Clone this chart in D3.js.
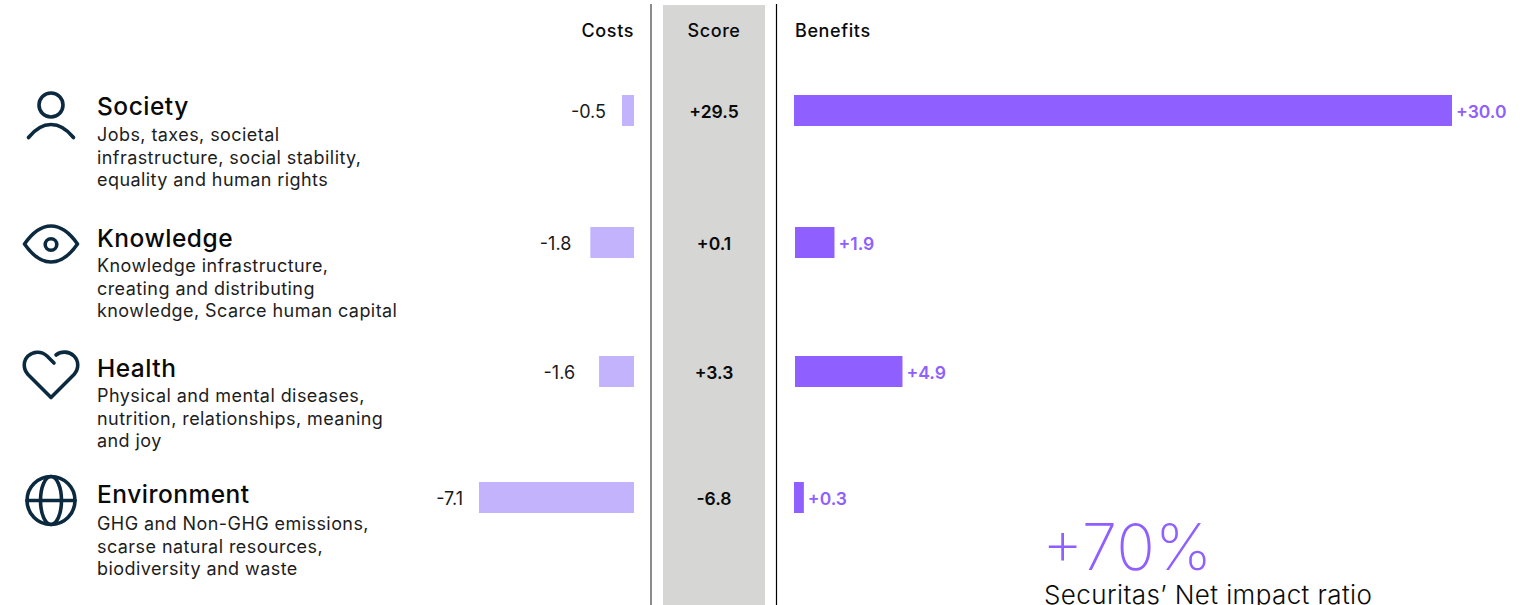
<!DOCTYPE html>
<html>
<head>
<meta charset="utf-8">
<script src="https://cdn.jsdelivr.net/npm/d3@7"></script>
<style>
  html, body { margin: 0; padding: 0; background: #fff; overflow: hidden; }
  text { font-family: "Inter", sans-serif; }
</style>
</head>
<body>
<div id="bodyVis"></div>
<script>
// chart data
var categories = ["Society", "Knowledge", "Health", "Environment"];
var descriptions = [
  ["Jobs, taxes, societal", "infrastructure, social stability,", "equality and human rights"],
  ["Knowledge infrastructure,", "creating and distributing", "knowledge, Scarce human capital"],
  ["Physical and mental diseases,", "nutrition, relationships, meaning", "and joy"],
  ["GHG and Non-GHG emissions,", "scarse natural resources,", "biodiversity and waste"]
];
var costBars = [0.55, 2.0, 1.6, 7.1];      // bar lengths as drawn, not quite the printed values
var benefitBars = [30.0, 1.8, 4.9, 0.45];
var costLabels = ["-0.5", "-1.8", "-1.6", "-7.1"];
var scoreLabels = ["+29.5", "+0.1", "+3.3", "-6.8"];
var benefitLabels = ["+30.0", "+1.9", "+4.9", "+0.3"];
var headers = ["Costs", "Score", "Benefits"];
var ratioValue = "+70%";
var ratioLabel = "Securitas\u2019 Net impact ratio";

var purple = "#8f5fff", lilac = "#c2b3fc", ink = "#0c2a3f";

var svg = d3.select("#bodyVis").append("svg")
  .attr("width", 1530)
  .attr("height", 605)
  .style("display", "block");

// rows are not evenly spaced in the original
var barTop = d3.scaleOrdinal().domain(categories).range([95, 227, 356, 482]);
var titleY = d3.scaleOrdinal().domain(categories).range([115, 247, 377, 503]);
var descY = d3.scaleOrdinal().domain(categories).range([141, 272, 402, 530]);
var labelGap = d3.scaleOrdinal().domain(categories).range([16, 19, 24, 16]);
var benefitStart = d3.scaleOrdinal().domain(categories).range([794, 795, 795, 794]);
var barHeight = 31;

var costScale = d3.scaleLinear().domain([0, 7.1]).range([634, 479]);
var benefitScale = d3.scaleLinear().domain([0, 30]).range([0, 658]);

// score band and the two rules
svg.append("rect").attr("x", 663).attr("y", 5).attr("width", 102).attr("height", 600).attr("fill", "#d6d6d5");
svg.append("line").attr("x1", 651).attr("x2", 651).attr("y1", 4).attr("y2", 605)
  .attr("stroke", "#6e6e6e").attr("stroke-width", 1.6);
svg.append("line").attr("x1", 776.5).attr("x2", 776.5).attr("y1", 4).attr("y2", 605)
  .attr("stroke", "#000").attr("stroke-width", 1.2);

// headers
function headerText(s, x, anchor) {
  svg.append("text").attr("x", x).attr("y", 36.5).attr("text-anchor", anchor)
    .attr("font-size", 18).attr("font-weight", 500).attr("letter-spacing", 0.6)
    .attr("fill", "#0a0a0a").text(s);
}
headerText(headers[0], 634, "end");
headerText(headers[1], 714, "middle");
headerText(headers[2], 795, "start");

var rows = svg.selectAll("g.row").data(categories).enter().append("g").attr("class", "row");

// left column
rows.append("text")
  .attr("x", 97)
  .attr("y", function(d) { return titleY(d); })
  .attr("font-size", 24.5).attr("font-weight", 500).attr("letter-spacing", 0.5)
  .attr("fill", "#0a0a0a")
  .text(function(d) { return d; });

rows.each(function(d, i) {
  d3.select(this).selectAll("text.desc").data(descriptions[i]).enter().append("text")
    .attr("class", "desc")
    .attr("x", 97)
    .attr("y", function(s, j) { return descY(d) + j * 22.7; })
    .attr("font-size", 18).attr("letter-spacing", 0.43)
    .attr("fill", "#1d1d1d")
    .text(function(s) { return s; });
});

// cost bars
rows.append("rect")
  .attr("x", function(d, i) { return costScale(costBars[i]); })
  .attr("y", function(d) { return barTop(d); })
  .attr("width", function(d, i) { return costScale(0) - costScale(costBars[i]); })
  .attr("height", barHeight)
  .attr("fill", lilac);

rows.append("text")
  .attr("x", function(d, i) { return costScale(costBars[i]) - labelGap(d); })
  .attr("y", function(d) { return barTop(d) + 22.5; })
  .attr("text-anchor", "end")
  .attr("font-size", 18).attr("fill", "#1a1a1a")
  .text(function(d, i) { return costLabels[i]; });

// score
rows.append("text")
  .attr("x", 714)
  .attr("y", function(d) { return barTop(d) + 22.7; })
  .attr("text-anchor", "middle")
  .attr("font-size", 17.5).attr("font-weight", 600).attr("fill", "#0a0a0a")
  .text(function(d, i) { return scoreLabels[i]; });

// benefit bars
rows.append("rect")
  .attr("x", function(d) { return benefitStart(d); })
  .attr("y", function(d) { return barTop(d); })
  .attr("width", function(d, i) { return benefitScale(benefitBars[i]); })
  .attr("height", barHeight)
  .attr("fill", purple);

rows.append("text")
  .attr("x", function(d, i) { return benefitStart(d) + benefitScale(benefitBars[i]) + 4; })
  .attr("y", function(d) { return barTop(d) + 23; })
  .attr("font-size", 17.5).attr("font-weight", 600).attr("fill", purple)
  .text(function(d, i) { return benefitLabels[i]; });

// big ratio
svg.append("text").attr("x", 1042).attr("y", 570)
  .attr("font-size", 64).attr("font-weight", 200).attr("fill", purple)
  .text(ratioValue);
svg.append("text").attr("x", 1044).attr("y", 604)
  .attr("font-size", 26).attr("font-weight", 300).attr("letter-spacing", 0.4).attr("fill", "#0a0a0a")
  .text(ratioLabel);

// icons
var icons = svg.append("g")
  .attr("fill", "none").attr("stroke", ink).attr("stroke-width", 3.6)
  .attr("stroke-linecap", "round").attr("stroke-linejoin", "round");

// person
icons.append("circle").attr("cx", 51).attr("cy", 105).attr("r", 12);
icons.append("path").attr("d", "M28.5,137.5 Q39,124.5 51,124.5 Q63,124.5 73.5,137.5");
// eye
icons.append("path").attr("d", "M24.5,244 Q37,226 51,226 Q65,226 77.5,244 Q65,262 51,262 Q37,262 24.5,244 Z");
icons.append("circle").attr("cx", 51).attr("cy", 244.5).attr("r", 5.8);
// heart
icons.append("path").attr("d", "M54,363 L47,356 C41,350.5 33,351.5 28,356 C23,361 23,369 28,374.5 L51,397.5 L74,374.5 C79,369 79,361 74,356 C69,351 61,351 56,355");
// globe
icons.append("circle").attr("cx", 51).attr("cy", 500.5).attr("r", 24);
icons.append("ellipse").attr("cx", 51).attr("cy", 500.5).attr("rx", 10.5).attr("ry", 24);
icons.append("line").attr("x1", 27).attr("x2", 75).attr("y1", 500.5).attr("y2", 500.5);
</script>
</body>
</html>
